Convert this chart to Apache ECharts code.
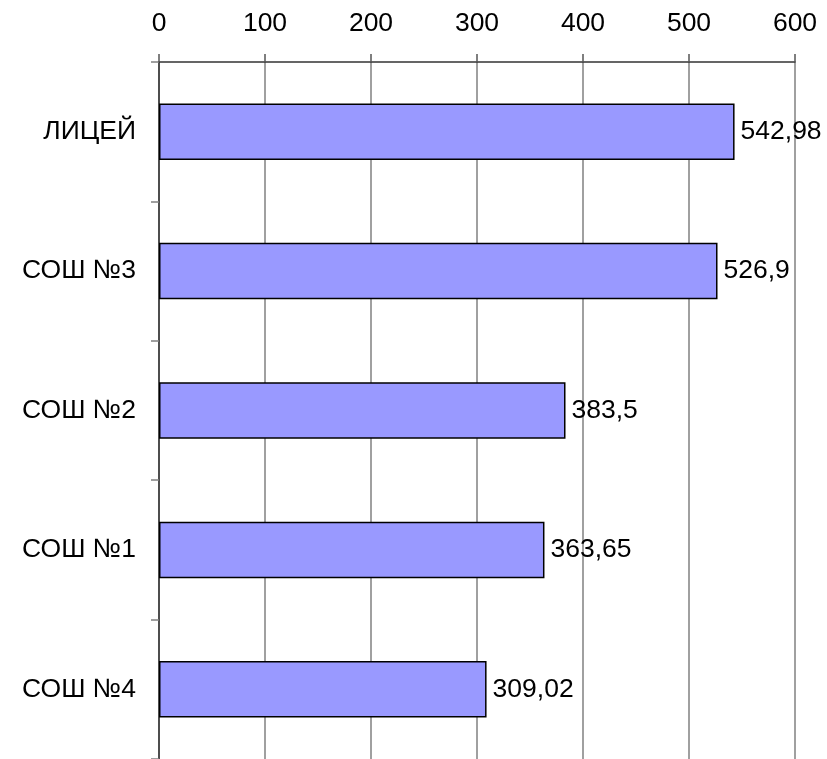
<!DOCTYPE html>
<html><head><meta charset="utf-8">
<script src="https://cdn.jsdelivr.net/npm/echarts@6/dist/echarts.min.js"></script>
<style>html,body{margin:0;padding:0;background:#fff}#c{width:827px;height:759px}</style>
</head><body><div id="c"></div>
<script>
const categories = ['ЛИЦЕЙ', 'СОШ №3', 'СОШ №2', 'СОШ №1', 'СОШ №4'];
const values = [542.98, 526.9, 383.5, 363.65, 309.02];
const xTicks = { min: 0, max: 600, interval: 100 };

const chart = echarts.init(document.getElementById('c'), null, { renderer: 'canvas' });
const font = '"Liberation Sans", Arial, sans-serif';
chart.setOption({
  animation: false,
  backgroundColor: '#ffffff',
  grid: { left: 159, top: 62, width: 636, height: 700, containLabel: false },
  xAxis: {
    type: 'value', position: 'top', min: xTicks.min, max: xTicks.max, interval: xTicks.interval,
    axisLine: { show: true, lineStyle: { color: '#333333', width: 1.5 } },
    axisTick: { show: true, inside: false, length: 8, lineStyle: { color: '#555555', width: 1.5 } },
    axisLabel: { color: '#000', fontSize: 26.5, fontFamily: font, margin: 25 },
    splitLine: { show: true, lineStyle: { color: '#808080', width: 1.5 } }
  },
  yAxis: {
    type: 'category', data: categories, inverse: true,
    axisLine: { show: true, lineStyle: { color: '#333333', width: 1.5 } },
    axisTick: { show: true, inside: false, length: 8, alignWithLabel: false, lineStyle: { color: '#808080', width: 1.5 } },
    axisLabel: { color: '#000', fontSize: 26.5, fontFamily: font, margin: 23 },
    splitLine: { show: false }
  },
  series: [{
    type: 'bar', data: values, barWidth: '40.5%',
    itemStyle: { color: '#9999FF', borderColor: '#000000', borderWidth: 1.5 },
    label: {
      show: true, position: 'right', distance: 6, color: '#000', fontSize: 26.5, fontFamily: font,
      formatter: p => String(p.value).replace('.', ',')
    }
  }]
});
</script></body></html>
